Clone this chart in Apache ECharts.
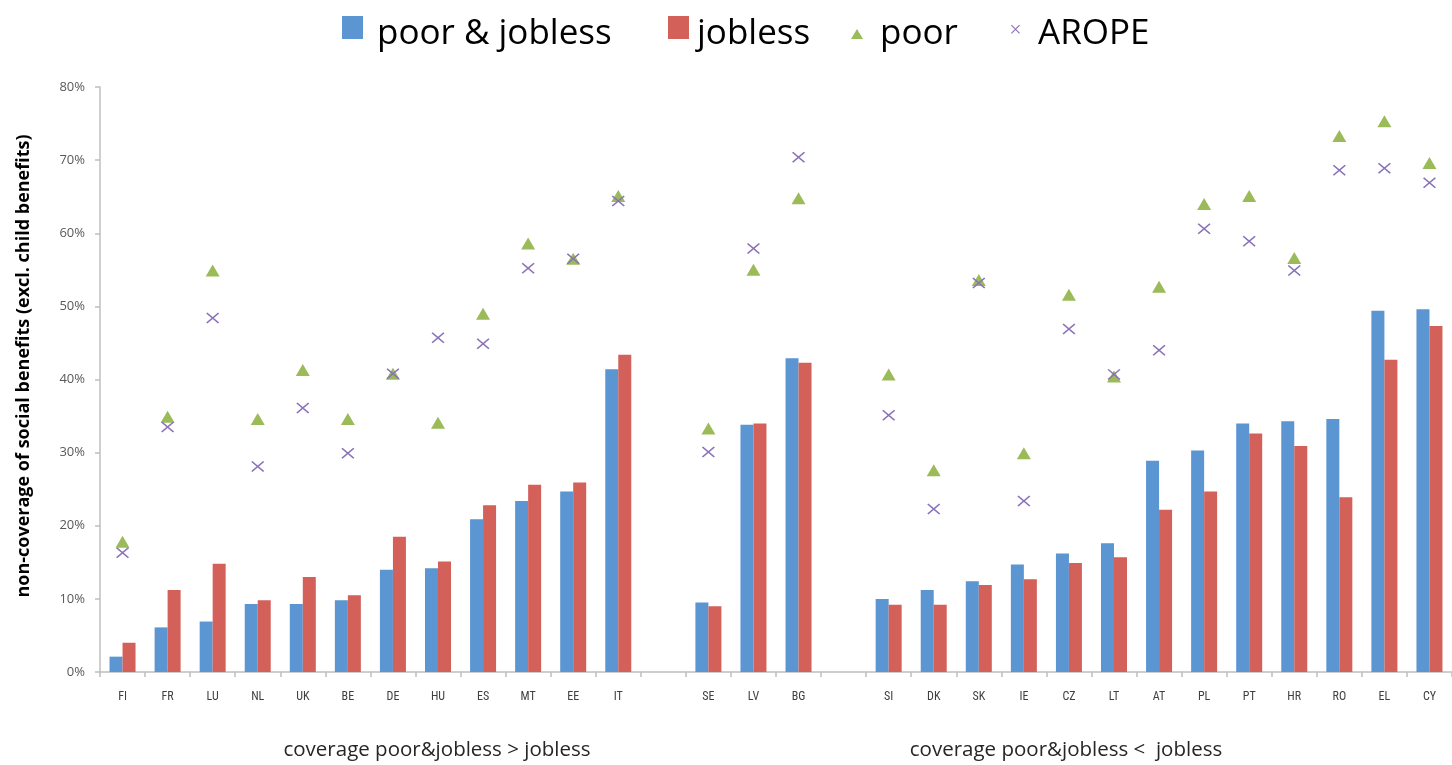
<!DOCTYPE html>
<html>
<head>
<meta charset="utf-8">
<title>Non-coverage of social benefits</title>
<script src="https://cdn.jsdelivr.net/npm/echarts@6/dist/echarts.min.js"></script>
<style>
  html, body { margin: 0; padding: 0; background: #fff; }
  #chart { width: 1452px; height: 765px; }
</style>
</head>
<body>
<div id="chart"></div>
<script>
// Country codes; empty entries separate the three groups
var categories = ['FI','FR','LU','NL','UK','BE','DE','HU','ES','MT','EE','IT','',
  'SE','LV','BG','',
  'SI','DK','SK','IE','CZ','LT','AT','PL','PT','HR','RO','EL','CY'];

// Non-coverage rates, in percent
var poorJobless = [2.1,6.1,6.9,9.3,9.3,9.8,14.0,14.2,20.9,23.4,24.7,41.4,null,
  9.5,33.8,42.9,null,
  10.0,11.2,12.4,14.7,16.2,17.6,28.9,30.3,34.0,34.3,34.6,49.4,49.6];
var jobless = [4.0,11.2,14.8,9.8,13.0,10.5,18.5,15.1,22.8,25.6,25.9,43.4,null,
  9.0,34.0,42.3,null,
  9.2,9.2,11.9,12.7,14.9,15.7,22.2,24.7,32.6,30.9,23.9,42.7,47.3];
var poor = [17.8,34.9,54.9,34.6,41.3,34.6,40.8,34.1,49.0,58.6,56.5,65.1,null,
  33.3,55.0,64.8,null,
  40.7,27.6,53.6,29.9,51.6,40.4,52.7,64.0,65.1,56.6,73.3,75.3,69.6];
var arope = [16.3,33.5,48.4,28.1,36.1,29.9,40.8,45.7,44.9,55.2,56.5,64.4,null,
  30.1,57.9,70.4,null,
  35.1,22.3,53.2,23.4,46.9,40.7,44.0,60.6,58.9,54.9,68.6,68.9,66.9];

var groupLabels = ['coverage poor&jobless > jobless', 'coverage poor&jobless <  jobless'];
var yAxisTitle = 'non-coverage of social benefits (excl. child benefits)';

var FONT = '"Open Sans", "Liberation Sans", sans-serif';
var NARROW = '"Liberation Sans Narrow", "Roboto Condensed", Lato, sans-serif';
var COLORS = { blue: '#5b95d2', red: '#d4605a', green: '#9bbb59', purple: '#8a72b8' };
var CROSS = 'path://M0,0.9L0.9,0L10,9.1L9.1,10Z M9.1,0L10,0.9L0.9,10L0,9.1Z';

// Legend icons drawn in a 36px-tall box; the hairline anchors at top/bottom
// only fix the box height so each glyph sits at its own height beside the text.
var ICON_H = 36;
var LEGEND_ICONS = {
  square: 'path://M0,0H21V23H0Z M0,0L0.01,0 M0,36L0.01,36',
  triangle: 'path://M6,13L12,23L0,23Z M0,0L0.01,0 M0,36L0.01,36',
  cross: 'path://M0,9.5L0.8,8.7L9,16.9L8.2,17.7Z M8.2,8.7L9,9.5L0.8,17.7L0,16.9Z M0,0L0.01,0 M0,36L0.01,36'
};

// One legend block per entry so each icon keeps its own size
function legendItem(name, left, icon, w, padLeft) {
  return {
    data: [{ name: name, icon: icon }],
    left: left, top: 16, padding: 0,
    itemWidth: w, itemHeight: ICON_H,
    textStyle: { fontFamily: FONT, fontSize: 35, color: '#000', padding: [0, 0, 0, padLeft] },
    selectedMode: false
  };
}

var chart = echarts.init(document.getElementById('chart'), null, { renderer: 'canvas' });
chart.setOption({
  animation: false,
  color: [COLORS.blue, COLORS.red, COLORS.green, COLORS.purple],
  legend: [
    legendItem('poor & jobless', 342, LEGEND_ICONS.square, 21, 9),
    legendItem('jobless', 668, LEGEND_ICONS.square, 21, 3),
    legendItem('poor', 851, LEGEND_ICONS.triangle, 12, 12),
    legendItem('AROPE', 1011, LEGEND_ICONS.cross, 9, 13)
  ],
  grid: { left: 100, right: -7, top: 87, bottom: 93, containLabel: false },
  xAxis: {
    type: 'category',
    data: categories,
    axisLine: { lineStyle: { color: '#bfbfbf', width: 1.5 } },
    axisTick: { show: true, alignWithLabel: false, length: 5, lineStyle: { color: '#bfbfbf', width: 1.5 } },
    axisLabel: { fontFamily: NARROW, fontSize: 12, color: '#404040', margin: 19, interval: 0 }
  },
  yAxis: {
    type: 'value',
    min: 0, max: 80, interval: 10,
    axisLine: { show: true, lineStyle: { color: '#bfbfbf', width: 1.5 } },
    axisTick: { show: true, inside: false, length: 5, lineStyle: { color: '#bfbfbf', width: 1.5 } },
    splitLine: { show: false },
    axisLabel: { formatter: '{value}%', fontFamily: FONT, fontSize: 13, color: '#595959', margin: 15 }
  },
  series: [
    { name: 'poor & jobless', type: 'bar', data: poorJobless, barWidth: 13, barGap: '0%',
      itemStyle: { color: COLORS.blue } },
    { name: 'jobless', type: 'bar', data: jobless, barWidth: 13, barGap: '0%',
      itemStyle: { color: COLORS.red } },
    { name: 'poor', type: 'scatter', data: poor, symbol: 'triangle', symbolSize: [14, 12],
      itemStyle: { color: COLORS.green, opacity: 1 }, z: 3 },
    { name: 'AROPE', type: 'scatter', data: arope, symbol: CROSS, symbolSize: [13, 11],
      itemStyle: { color: COLORS.purple, opacity: 1 }, z: 4 }
  ],
  graphic: [
    { type: 'text', rotation: Math.PI / 2, x: 24, y: 366,
      style: { text: yAxisTitle, textAlign: 'center', textVerticalAlign: 'middle',
        font: 'bold 18px ' + FONT, fill: '#000' } },
    { type: 'text', style: { text: groupLabels[0], x: 437, y: 750, textAlign: 'center', textVerticalAlign: 'middle',
      font: '20.5px ' + FONT, fill: '#262626' } },
    { type: 'text', style: { text: groupLabels[1], x: 1066, y: 750, textAlign: 'center', textVerticalAlign: 'middle',
      font: '20.5px ' + FONT, fill: '#262626' } }
  ]
});
</script>
</body>
</html>
